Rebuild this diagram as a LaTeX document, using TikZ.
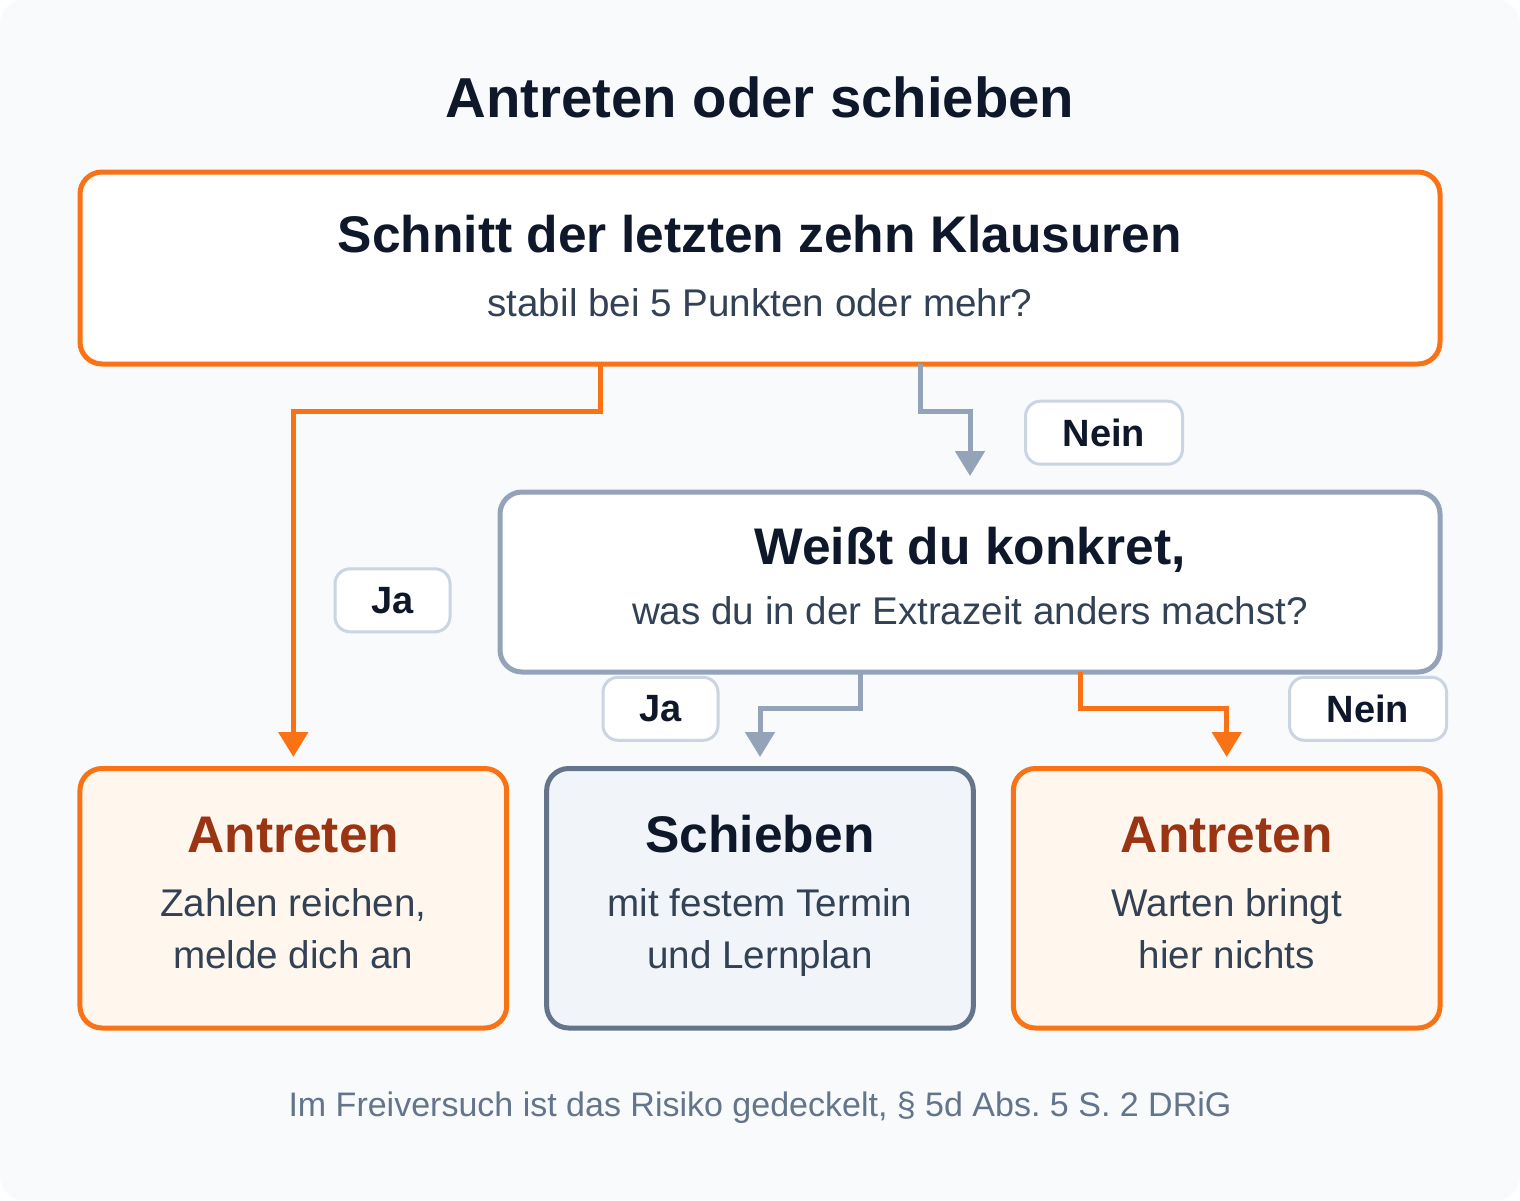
\documentclass[tikz,border=0pt]{standalone}
\usepackage{fontspec}
\setmainfont{Liberation Sans}
\usetikzlibrary{arrows.meta}
\definecolor{c_orange}{HTML}{F97316}
\definecolor{c_gray}{HTML}{94A3B8}
\definecolor{c_slate}{HTML}{64748B}
\definecolor{c_ink}{HTML}{0F172A}
\definecolor{c_sub}{HTML}{334155}
\definecolor{c_rust}{HTML}{9A3412}
\definecolor{c_cream}{HTML}{FFF7ED}
\definecolor{c_mist}{HTML}{F1F5F9}
\definecolor{c_lbl}{HTML}{CBD5E1}
\definecolor{c_bg}{HTML}{F8FAFC}
\newcommand\fsz[1]{\fontsize{#1}{#1}\selectfont}
\frenchspacing
\tikzset{
  flowbox/.style = {rectangle, rounded corners=22pt, line width=5pt,
    inner sep=0pt, outer sep=0pt},
  box_q/.style = {flowbox, fill=white},
  box_r/.style = {flowbox, minimum width=426.7pt, minimum height=259.5pt},
  txt_h/.style = {anchor=base, inner sep=0pt, font=\bfseries\fsz{51.5}, text=c_ink},
  txt_s/.style = {anchor=base, inner sep=0pt, font=\fsz{38.6}, text=c_sub},
  lbl_n/.style = {rectangle, rounded corners=15pt, draw=c_lbl, fill=white,
    line width=3pt, minimum height=63pt, inner sep=0pt, text depth=0pt,
    font=\bfseries\fsz{38}, text=c_ink},
  edge_o/.style = {draw=c_orange, line width=5pt},
  edge_g/.style = {draw=c_gray, line width=5pt}}

\begin{document}
\begin{tikzpicture}[->,>={Triangle[width=29pt,length=25pt]}, x=1pt, y=-1pt]
\useasboundingbox (0,0) rectangle (1520,1200);
\fill[white] (0,0) rectangle (1520,1200);
\fill[c_bg, rounded corners=24pt] (0,0) rectangle (1520,1200);

\node[anchor=base, inner sep=0pt, font=\bfseries\fsz{56.3}, text=c_ink] (title)
  at (760,117) {Antreten oder schieben};

\node[box_q, draw=c_orange, minimum width=1360pt, minimum height=192pt] (q1) at (760,268) {};
\node[txt_h] (q1h) at (760,252) {Schnitt der letzten zehn Klausuren};
\node[txt_s] (q1s) at (760,316) {stabil bei 5 Punkten oder mehr?};

\node[box_q, draw=c_gray, minimum width=940pt, minimum height=180pt] (q2) at (970,582) {};
\node[txt_h] (q2h) at (970,564) {Weißt du konkret,};
\node[txt_s] (q2s) at (970,624) {was du in der Extrazeit anders machst?};

\node[box_r, draw=c_orange, fill=c_cream] (r1) at (293.3,898.25) {};
\node[txt_h, text=c_rust] (r1h) at (293.3,852) {Antreten};
\node[txt_s] (r1a) at (293.3,916) {Zahlen reichen,};
\node[txt_s] (r1b) at (293.3,968) {melde dich an};

\node[box_r, draw=c_slate, fill=c_mist] (r2) at (760,898.25) {};
\node[txt_h] (r2h) at (760,852) {Schieben};
\node[txt_s] (r2a) at (760,916) {mit festem Termin};
\node[txt_s] (r2b) at (760,968) {und Lernplan};

\node[box_r, draw=c_orange, fill=c_cream] (r3) at (1226.7,898.25) {};
\node[txt_h, text=c_rust] (r3h) at (1226.7,852) {Antreten};
\node[txt_s] (r3a) at (1226.7,916) {Warten bringt};
\node[txt_s] (r3b) at (1226.7,968) {hier nichts};

\draw[edge_o, shorten >=11.5pt] ([xshift=-160pt]q1.south) -- ++(0,47.5) -| (r1.north);
\draw[edge_g, shorten >=16pt] ([xshift=160pt]q1.south) -- ++(0,47.5) -| (q2.north);
\draw[edge_g, shorten >=11.5pt] ([xshift=-110pt]q2.south) -- ++(0,36) -| (r2.north);
\draw[edge_o, shorten >=11.5pt] ([xshift=110pt]q2.south) -- ++(0,36) -| (r3.north);

\node[lbl_n, minimum width=157pt] (l_nein1) at (1104,432.7) {Nein};
\node[lbl_n, minimum width=115pt] (l_ja1) at (392.5,600.3) {Ja};
\node[lbl_n, minimum width=115pt] (l_ja2) at (660.5,708.8) {Ja};
\node[lbl_n, minimum width=157pt] (l_nein2) at (1368,708.8) {Nein};

\node[anchor=base, inner sep=0pt, font=\fsz{34}, text=c_slate] (foot)
  at (760,1116) {Im Freiversuch ist das Risiko gedeckelt, § 5d Abs. 5 S. 2 DRiG};
\end{tikzpicture}
\end{document}
